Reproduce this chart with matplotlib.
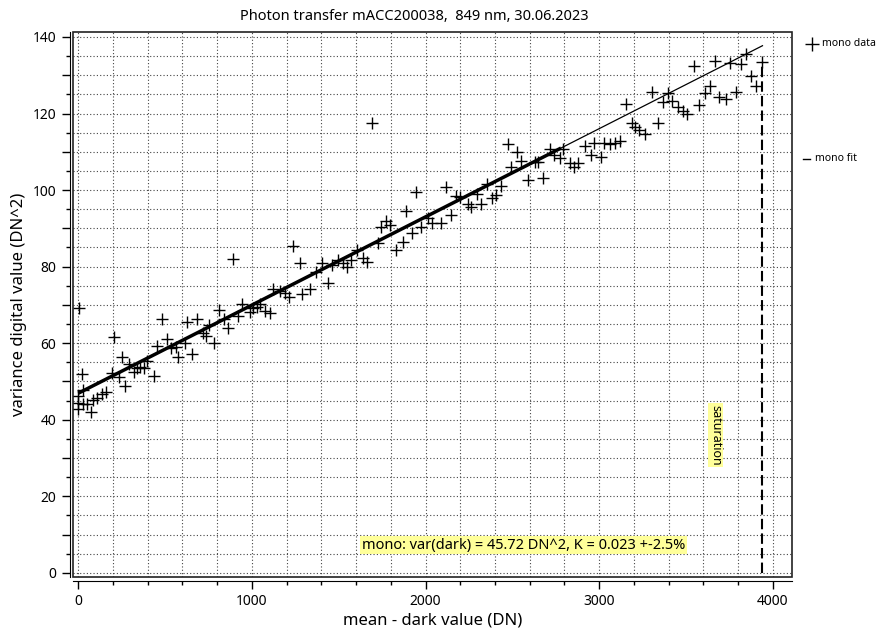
import matplotlib.pyplot as plt
from matplotlib.lines import Line2D
from matplotlib.patches import Rectangle
from matplotlib.ticker import MultipleLocator, FuncFormatter

# measured points (mean - dark, variance)
mean_dn = [5, 19, 25, 0, 0, 0, 25, 52, 71, 87, 110, 138, 159, 192, 207, 234, 250, 269,
           294, 321, 336, 355, 378, 397, 436, 455, 480, 509, 537, 562, 576, 614, 627,
           658, 685, 716, 735, 754, 783, 812, 839, 863, 892, 921, 944, 988, 1007, 1027,
           1046, 1075, 1103, 1122, 1161, 1190, 1214, 1237, 1276, 1291, 1333, 1372, 1406,
           1439, 1464, 1497, 1525, 1548, 1573, 1606, 1640, 1663, 1694, 1727, 1746, 1775,
           1794, 1832, 1871, 1886, 1924, 1947, 1976, 2014, 2040, 2091, 2120, 2149, 2174,
           2197, 2245, 2264, 2296, 2322, 2351, 2385, 2404, 2433, 2475, 2494, 2529, 2552,
           2590, 2628, 2647, 2676, 2719, 2738, 2772, 2791, 2834, 2853, 2878, 2916, 2955,
           2968, 3012, 3026, 3064, 3089, 3122, 3156, 3191, 3204, 3229, 3262, 3306, 3338,
           3367, 3396, 3421, 3453, 3482, 3505, 3544, 3574, 3607, 3636, 3664, 3689, 3732,
           3755, 3789, 3818, 3843, 3876, 3904, 3937]
variance = [69.1, 51.9, 47.8, 46.2, 44.3, 42.7, 44.1, 44.1, 42.1, 45.1, 45.6, 46.7, 47.3,
            52.3, 61.5, 51.1, 56.3, 48.9, 54.5, 52.5, 53.4, 53.8, 53.4, 55.4, 51.4, 59.3,
            66.2, 61.0, 58.7, 58.9, 56.3, 60.0, 65.6, 57.2, 66.2, 62.7, 61.9, 64.7, 60.0,
            68.7, 66.2, 63.9, 81.9, 67.1, 70.2, 68.2, 69.1, 69.4, 70.2, 68.5, 68.0, 74.1,
            73.7, 73.0, 72.0, 85.5, 81.0, 72.8, 74.1, 78.7, 81.0, 75.8, 80.4, 81.7, 81.0,
            80.0, 81.7, 84.3, 82.2, 81.3, 117.6, 86.1, 90.3, 92.0, 90.9, 84.3, 86.3, 94.6,
            88.9, 99.6, 90.3, 92.6, 91.3, 91.5, 100.9, 93.5, 98.5, 98.1, 96.4, 95.5, 99.0,
            96.3, 101.6, 97.9, 98.7, 101.1, 112.0, 106.0, 110.0, 107.7, 102.6, 107.4, 107.4,
            103.1, 110.7, 109.2, 108.3, 110.7, 107.0, 106.0, 107.0, 111.5, 109.2, 112.4,
            108.7, 112.2, 112.0, 112.2, 112.7, 122.4, 117.5, 116.6, 115.7, 114.6, 125.7,
            117.5, 123.1, 125.3, 123.3, 121.8, 120.7, 119.8, 132.3, 122.2, 125.3, 127.3,
            133.6, 124.4, 123.8, 133.1, 125.7, 132.9, 135.5, 129.9, 127.3, 133.4]

# linear fit: variance = intercept + slope * mean
fit_intercept = 46.9
fit_slope = 0.02305
fit_range_used = [0, 2780]
fit_range_ext = [2780, 3940]

sat_x = 3937
sat_y = 133.4

plt.rcParams["font.family"] = "Noto Sans"

fig = plt.figure(figsize=(8.78, 6.35), dpi=100)
ax = fig.add_axes([73 / 878, 1 - 577 / 635, (792 - 73) / 878, (577 - 32) / 635])

ax.plot(mean_dn, variance, linestyle="none", marker="+", markersize=9,
        markeredgewidth=1.0, color="black", zorder=3)

fx = fit_range_used
ax.plot(fx, [fit_intercept + fit_slope * v for v in fx], color="black", lw=2.5,
        solid_capstyle="butt", zorder=4)
fx = fit_range_ext
ax.plot(fx, [fit_intercept + fit_slope * v for v in fx], color="black", lw=0.9, zorder=4)

ax.plot([sat_x, sat_x], [0, sat_y], color="black", lw=1.5, linestyle=(0, (5, 2)), zorder=4)

ax.text(3670, 36, "saturation", rotation=-90, ha="center", va="center", fontsize=9,
        bbox=dict(boxstyle="square,pad=0.1", fc="#ffff99", ec="none"))
ax.text(1633, 7.2, "mono: var(dark) = 45.72 DN^2, K = 0.023 +-2.5%", ha="left",
        va="center", fontsize=10.5,
        bbox=dict(boxstyle="square,pad=0.1", fc="#ffff99", ec="none"))

ax.set_xlim(-30, 4110)
ax.set_ylim(-1.1, 141.3)

ax.xaxis.set_major_locator(MultipleLocator(1000))
ax.xaxis.set_minor_locator(MultipleLocator(200))
ax.yaxis.set_major_locator(MultipleLocator(10))
ax.yaxis.set_minor_locator(MultipleLocator(5))
ax.yaxis.set_major_formatter(FuncFormatter(lambda v, p: f"{v:.0f}" if round(v) % 20 == 0 else ""))

ax.grid(True, which="both", color="#444444", linestyle=(0, (1, 2)), lw=0.8)
ax.set_axisbelow(True)

ax.tick_params(which="major", length=6, width=1, labelsize=10, direction="out")
ax.tick_params(which="minor", length=3, width=1, direction="out")

for s in ["top", "right"]:
    ax.spines[s].set_visible(False)
ax.spines["left"].set_position(("outward", 2.5))
ax.spines["bottom"].set_position(("outward", 3))
ax.add_patch(Rectangle((0, 0), 1, 1, transform=ax.transAxes, fill=False,
                       ec="#222222", lw=1.2, clip_on=False, zorder=5))

fig.text(414 / 878, 1 - 16 / 635, "Photon transfer mACC200038,  849 nm, 30.06.2023",
         fontsize=10.5, ha="center", va="center")
ax.set_xlabel("mean - dark value (DN)", fontsize=12, labelpad=2)
ax.set_ylabel("variance digital value (DN^2)", fontsize=12, labelpad=4)

# legend on the right
fig.add_artist(Line2D([812 / 878], [1 - 44 / 635], marker="+", markersize=10,
                      markeredgewidth=1.0, color="black", linestyle="none"))
fig.text(822 / 878, 1 - 44 / 635, "mono data", fontsize=7.5, va="center", ha="left")
fig.add_artist(Line2D([803 / 878, 810 / 878], [1 - 159 / 635] * 2, lw=1.0, color="black"))
fig.text(815 / 878, 1 - 159 / 635, "mono fit", fontsize=7.5, va="center", ha="left")

fig.savefig("out.png", dpi=100)
